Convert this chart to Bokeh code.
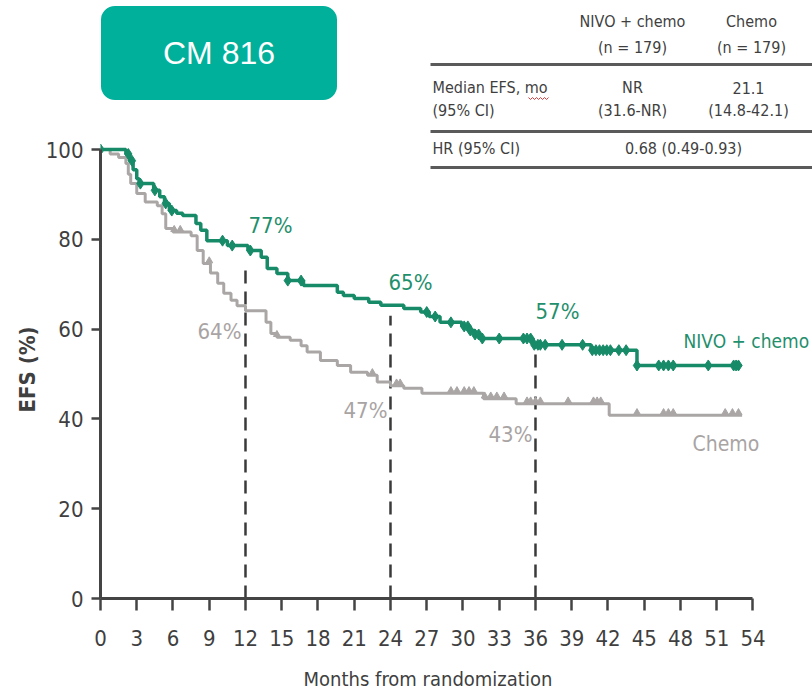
from bokeh.plotting import figure
from bokeh.models import Range1d, Label, FixedTicker, Title
from bokeh.embed import file_html
from bokeh.resources import INLINE

# ---------------- data ----------------
months_ticks = list(range(0, 55, 3))
efs_ticks = [0, 20, 40, 60, 80, 100]

# NIVO + chemo: step change times (months) and EFS (%) after each change
nivo_t = [0, 2.1, 2.4, 2.7, 3.0, 3.2, 4.4, 4.9, 5.3, 5.7, 6.3, 6.8, 7.9, 8.3, 8.8,
          10.5, 12.2, 13.3, 13.8, 14.6, 15.5, 16.8, 19.6, 20.1, 21.0, 22.2, 23.2,
          25.1, 26.5, 27.2, 28.1, 29.9, 30.6, 31.0, 31.5, 35.8, 40.6, 44.4]
nivo_s = [100, 99.0, 97.5, 95.5, 93.5, 92.4, 90.9, 89.5, 88.0, 86.4, 85.8, 85.3, 83.5, 82.0, 79.7,
          78.6, 77.5, 76.0, 73.5, 72.4, 70.8, 69.7, 68.2, 67.5, 66.8, 66.0, 65.3,
          64.6, 63.8, 62.8, 61.5, 60.6, 59.7, 58.8, 57.9, 56.5, 55.3, 51.9]
nivo_end = 52.8
nivo_censor = [0, 2.3, 2.6, 3.3, 4.5, 5.4, 5.9, 10.1, 10.9, 12.4, 15.5, 16.6,
               27.0, 27.7, 29.0, 30.1, 30.4, 30.6, 31.0, 31.3, 31.6, 33.0,
               35.0, 35.3, 35.6, 35.9, 36.2, 36.4, 36.8, 38.2, 39.9,
               40.7, 41.0, 41.3, 41.6, 41.9, 42.2, 42.9, 43.5, 44.4,
               46.2, 46.6, 47.0, 47.4, 50.3, 52.4, 52.6, 52.8]

# Chemo
chemo_t = [0, 0.8, 1.5, 2.1, 2.3, 2.5, 3.0, 3.7, 4.7, 5.1, 5.4, 6.0, 7.5, 8.0, 8.5,
           9.1, 9.7, 10.2, 10.8, 11.3, 12.0, 13.7, 14.1, 14.6, 15.7, 16.6, 17.1,
           18.2, 19.6, 20.7, 22.1, 22.9, 24.0, 25.1, 26.6, 31.7, 34.4, 42.1]
chemo_s = [100, 99.0, 98.2, 96.9, 94.5, 92.4, 90.2, 88.3, 87.5, 85.7, 82.4, 81.6, 80.8, 77.5, 74.6,
           72.5, 70.2, 68.0, 66.4, 65.2, 64.1, 61.5, 59.0, 58.2, 57.5, 56.3, 54.9,
           53.0, 51.9, 50.4, 49.7, 48.2, 47.4, 46.8, 45.7, 44.5, 43.4, 40.8]
chemo_end = 53.1
chemo_censor = [6.1, 6.6, 9.0, 14.6, 22.5, 24.5, 24.8, 29.0, 29.5, 30.1, 30.5, 30.9,
                31.8, 32.3, 32.8, 33.4, 35.3, 35.6, 36.0, 36.4, 38.7, 40.8, 41.1,
                41.4, 44.4, 46.6, 47.0, 47.4, 51.7, 52.3, 52.8]

landmarks = [12, 24, 36]
nivo_landmark_lbl = ["77%", "65%", "57%"]
chemo_landmark_lbl = ["64%", "47%", "43%"]
dash_tops = [74.2, 63.0, 54.8]

# ---------------- styling ----------------
GREEN = "#178a68"
GREEN_TXT = "#1f8f6c"
GRAY = "#aba6a6"
GRAY_TXT = "#a9a4a4"
AXIS = "#444444"
TEAL = "#00b09a"
TXT = "#3f3f3f"
NARROW = "'Liberation Sans Narrow', 'DejaVu Sans Condensed', sans-serif"

W, H = 812, 694
LEFT, BOTTOM = 100, 96
PXM = 12.083   # px per month
PYU = 4.49     # px per EFS %
XEND = (W - LEFT) / PXM
YEND = (H - BOTTOM) / PYU


def X(px):
    return (px - LEFT) / PXM


def Y(py):
    return (H - BOTTOM - py) / PYU


def surv(ts, ss, t):
    v = ss[0]
    for ti, si in zip(ts, ss):
        if ti <= t:
            v = si
    return v


p = figure(width=W, height=H, x_range=Range1d(0, XEND), y_range=Range1d(0, YEND),
           output_backend="svg", toolbar_location=None,
           min_border_left=LEFT, min_border_bottom=BOTTOM, min_border_top=0, min_border_right=0)
p.outline_line_color = None
p.grid.visible = False
p.background_fill_color = "white"
p.border_fill_color = "white"

# axes
p.xaxis.ticker = FixedTicker(ticks=months_ticks)
p.yaxis.ticker = FixedTicker(ticks=efs_ticks)
p.xaxis.bounds = (0, 54)
p.yaxis.bounds = (0, 100)
for ax in (p.xaxis, p.yaxis):
    ax.axis_line_color = AXIS
    ax.axis_line_width = 3
    ax.major_tick_line_color = AXIS
    ax.major_tick_line_width = 2.5
    ax.major_tick_in = 0
    ax.minor_tick_line_color = None
    ax.major_label_text_font = NARROW
    ax.major_label_text_font_size = "22px"
    ax.major_label_text_color = TXT
p.xaxis.major_tick_out = 12
p.xaxis.major_label_standoff = 19
p.yaxis.major_tick_out = 9
p.yaxis.major_label_standoff = 8

# x-axis title (trailing no-break spaces shift it to be centred on the 0-54 axis span)
p.xaxis.axis_label = "Months from randomization" + "\u00a0" * 10
p.xaxis.axis_label_text_font = NARROW
p.xaxis.axis_label_text_font_size = "20px"
p.xaxis.axis_label_text_font_style = "normal"
p.xaxis.axis_label_text_color = TXT
p.xaxis.axis_label_standoff = 18

# y-axis title as a side-panel title, centred on the 0-100 axis span
p.add_layout(Title(text="EFS (%)", align="left", offset=186, text_font=NARROW,
                   text_font_size="22px", text_font_style="bold", text_color=TXT,
                   standoff=6), "left")

# landmark dashed lines
for lm, top in zip(landmarks, dash_tops):
    p.line([lm, lm], [0, top], line_color="#3a3a3a", line_width=2.5, line_dash="13 8")

# curves
p.step(chemo_t + [chemo_end], chemo_s + [chemo_s[-1]], mode="after",
       line_color=GRAY, line_width=3)
p.scatter(chemo_censor, [surv(chemo_t, chemo_s, t) + 0.6 for t in chemo_censor],
          marker="triangle", size=7, fill_color=GRAY, line_color=GRAY)
p.step(nivo_t + [nivo_end], nivo_s + [nivo_s[-1]], mode="after",
       line_color=GREEN, line_width=3.5)
p.scatter(nivo_censor, [surv(nivo_t, nivo_s, t) for t in nivo_censor],
          marker="diamond", size=11, fill_color=GREEN, line_color=GREEN)

# landmark labels
nivo_lbl_pos = [(270, 225), (410, 282), (557, 311)]
chemo_lbl_pos = [(219, 331), (365, 410), (510, 434)]
for txt, (px, py) in zip(nivo_landmark_lbl, nivo_lbl_pos):
    p.add_layout(Label(x=X(px), y=Y(py), text=txt, text_font=NARROW, text_font_size="22px",
                       text_color=GREEN_TXT, text_align="center", text_baseline="middle"))
for txt, (px, py) in zip(chemo_landmark_lbl, chemo_lbl_pos):
    p.add_layout(Label(x=X(px), y=Y(py), text=txt, text_font=NARROW, text_font_size="22px",
                       text_color=GRAY_TXT, text_align="center", text_baseline="middle"))

p.add_layout(Label(x=X(683), y=Y(340), text="NIVO + chemo", text_font=NARROW, text_font_size="19px",
                   text_color=GREEN_TXT, text_align="left", text_baseline="middle"))
p.add_layout(Label(x=X(692), y=Y(443), text="Chemo", text_font=NARROW, text_font_size="21px",
                   text_color=GRAY_TXT, text_align="left", text_baseline="middle"))

# title box (label with rounded background)
p.add_layout(Label(x=X(218.5), y=Y(52.5), text="CM 816", text_font="'Liberation Sans', Arial, sans-serif",
                   text_font_size="32px", text_color="white", text_align="center", text_baseline="middle",
                   background_fill_color=TEAL, background_fill_alpha=1.0, border_radius=14,
                   padding=dict(left=62, right=62, top=29, bottom=29)))

# summary table
for py in (64, 131, 167):
    p.line([X(430), X(812)], [Y(py), Y(py)], line_color="#5a5a5a", line_width=3)

table_cells = [
    ("NIVO + chemo", 632, 21, "center"), ("(n = 179)", 632, 47, "center"),
    ("Chemo", 751, 21, "center"), ("(n = 179)", 751, 47, "center"),
    ("Median EFS, mo", 432, 87, "left"), ("(95% CI)", 432, 110, "left"),
    ("NR", 632, 87, "center"), ("(31.6-NR)", 632, 110, "center"),
    ("21.1", 748, 87, "center"), ("(14.8-42.1)", 748, 110, "center"),
    ("HR (95% CI)", 432, 148, "left"), ("0.68 (0.49-0.93)", 683, 148, "center"),
]
for txt, px, py, al in table_cells:
    p.add_layout(Label(x=X(px), y=Y(py), text=txt, text_font=NARROW, text_font_size="16px",
                       text_color=TXT, text_align=al, text_baseline="middle"))

# spell-check squiggle under "mo" (as in the source screenshot)
sq_px = [528 + 2 * i for i in range(11)]
sq_py = [97 + 2 * (i % 2) for i in range(11)]
p.line([X(v) for v in sq_px], [Y(v) for v in sq_py], line_color="#e03a3a", line_width=1)

open("out.html", "w").write(file_html(p, INLINE))
